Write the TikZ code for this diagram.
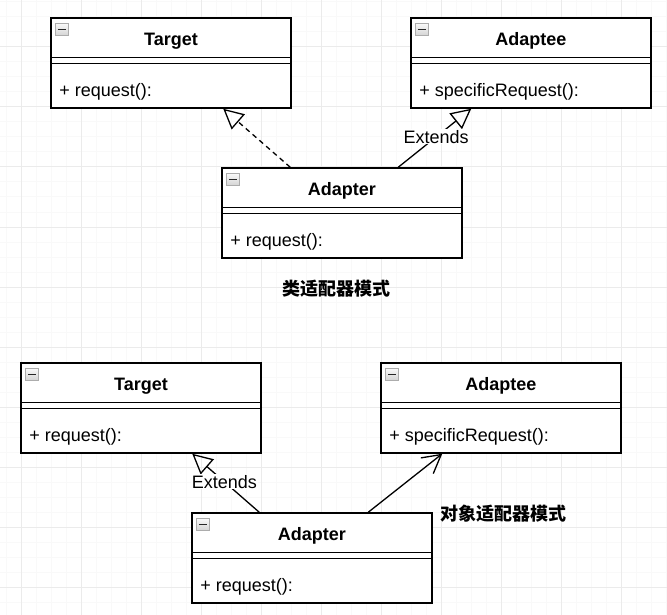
\documentclass[tikz,border=0pt]{standalone}
\usepackage{fontspec}
\setmainfont{Liberation Sans}
\newfontfamily\cjk{Noto Sans CJK SC}
\usetikzlibrary{arrows.meta, positioning, calc}

\begin{document}
\begin{tikzpicture}[
  x=1pt, y=-1pt,
  cls/.style={draw, line width=1.5pt, fill=white, minimum width=240pt,
              minimum height=90pt, inner sep=0pt},
  ttl/.style={minimum width=240pt, minimum height=40pt, inner sep=0pt,
              text height=17pt, text depth=0pt, font=\fontsize{18}{22}\selectfont\bfseries},
  mth/.style={inner sep=0pt, text height=13pt, text depth=4pt, font=\fontsize{18}{22}\selectfont},
  sep/.style={line width=1.5pt},
  icon/.style={draw=gray!65, top color=gray!5, bottom color=gray!35, minimum width=13pt,
               minimum height=12pt, inner sep=0pt, line width=0.9pt,
               path picture={\draw[line width=1.4pt, black!85]
                 ([xshift=2.5pt]path picture bounding box.west) -- ([xshift=-2.5pt]path picture bounding box.east);}},
  lbl/.style={fill=white, inner sep=1pt, font=\fontsize{18}{22}\selectfont},
  modename/.style={font=\cjk\bfseries\fontsize{18}{22}\selectfont},
  realize/.style={dashed, dash pattern=on 5pt off 4pt, line width=1.3pt, -{Triangle[open, length=20pt, width=20pt]}},
  extend/.style={line width=1.3pt, -{Triangle[open, length=20pt, width=20pt]}},
  assoc/.style={line width=1.3pt, -{Straight Barb[length=18pt, width=20pt]}}
]
\useasboundingbox (0,0) rectangle (667,615);

% background grid
\begin{scope}
  \clip (0,0) rectangle (667,615);
  \draw[gray!5, line width=1pt, xshift=6pt, yshift=-2pt, step=15pt] (-6,-2) grid (661,613);
  \draw[gray!16, line width=1pt, xshift=21pt, yshift=-47pt, step=60pt] (-21,-47) grid (646,568);
\end{scope}

% class adapter
\node[cls] (tgtA) at (171,63) {};
\node[icon, below right=6pt and 5pt of tgtA.north west] (tgtA-i) {};
\node[ttl, below=0pt of tgtA.north] (tgtA-t) {Target};
\node[mth, below right=66pt and 9pt of tgtA.north west] (tgtA-m) {+ request():};
\draw[sep] (tgtA-t.south west) -- (tgtA-t.south east);
\draw[sep] ([yshift=-6pt]tgtA-t.south west) -- ([yshift=-6pt]tgtA-t.south east);

\node[cls] (adeA) at (531,63) {};
\node[icon, below right=6pt and 5pt of adeA.north west] (adeA-i) {};
\node[ttl, below=0pt of adeA.north] (adeA-t) {Adaptee};
\node[mth, below right=66pt and 9pt of adeA.north west] (adeA-m) {+ specificRequest():};
\draw[sep] (adeA-t.south west) -- (adeA-t.south east);
\draw[sep] ([yshift=-6pt]adeA-t.south west) -- ([yshift=-6pt]adeA-t.south east);

\node[cls] (adpA) at (342,213) {};
\node[icon, below right=6pt and 5pt of adpA.north west] (adpA-i) {};
\node[ttl, below=0pt of adpA.north] (adpA-t) {Adapter};
\node[mth, below right=66pt and 9pt of adpA.north west] (adpA-m) {+ request():};
\draw[sep] (adpA-t.south west) -- (adpA-t.south east);
\draw[sep] ([yshift=-6pt]adpA-t.south west) -- ([yshift=-6pt]adpA-t.south east);

\draw[realize] ([xshift=69pt]adpA.north west) -- ([xshift=173pt]tgtA.south west);
\draw[extend] ([xshift=177pt]adpA.north west) -- node[lbl, pos=0.52] (extA) {Extends} ([xshift=61pt]adeA.south west);

\node[modename] (modeA) at (336,289) {类适配器模式};

% object adapter
\node[cls] (tgtB) at (141,408) {};
\node[icon, below right=6pt and 5pt of tgtB.north west] (tgtB-i) {};
\node[ttl, below=0pt of tgtB.north] (tgtB-t) {Target};
\node[mth, below right=66pt and 9pt of tgtB.north west] (tgtB-m) {+ request():};
\draw[sep] (tgtB-t.south west) -- (tgtB-t.south east);
\draw[sep] ([yshift=-6pt]tgtB-t.south west) -- ([yshift=-6pt]tgtB-t.south east);

\node[cls] (adeB) at (501,408) {};
\node[icon, below right=6pt and 5pt of adeB.north west] (adeB-i) {};
\node[ttl, below=0pt of adeB.north] (adeB-t) {Adaptee};
\node[mth, below right=66pt and 9pt of adeB.north west] (adeB-m) {+ specificRequest():};
\draw[sep] (adeB-t.south west) -- (adeB-t.south east);
\draw[sep] ([yshift=-6pt]adeB-t.south west) -- ([yshift=-6pt]adeB-t.south east);

\node[cls] (adpB) at (312,558) {};
\node[icon, below right=6pt and 5pt of adpB.north west] (adpB-i) {};
\node[ttl, below=0pt of adpB.north] (adpB-t) {Adapter};
\node[mth, below right=66pt and 9pt of adpB.north west] (adpB-m) {+ request():};
\draw[sep] (adpB-t.south west) -- (adpB-t.south east);
\draw[sep] ([yshift=-6pt]adpB-t.south west) -- ([yshift=-6pt]adpB-t.south east);

\draw[extend] ([xshift=68pt]adpB.north west) -- node[lbl, pos=0.52] (extB) {Extends} ([xshift=172pt]tgtB.south west);
\draw[assoc] ([xshift=177pt]adpB.north west) -- ([xshift=62pt]adeB.south west);

\node[modename] (modeB) at (503,514) {对象适配器模式};
\end{tikzpicture}
\end{document}
